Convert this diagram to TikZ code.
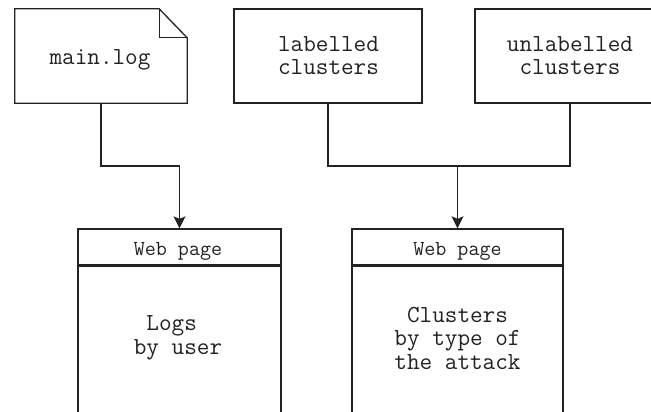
\documentclass[tikz,border=0pt]{standalone}
\usepackage{fontspec}
\usetikzlibrary{arrows.meta,calc}
\definecolor{ink}{HTML}{222222}

\tikzset{
  wire/.style={draw=ink, line width=1.3pt},
  wirearrow/.style={wire, -{Stealth[length=12pt,width=12pt,inset=2.5pt]}},
  boxshape/.style={draw=ink, line width=1.3pt, rectangle, inner sep=0pt, fill=white},
  bigtext/.style={font=\ttfamily\fontsize{24.5}{23.5}\selectfont, text=ink, inner sep=0pt, align=center, anchor=base},
  hdrtext/.style={font=\ttfamily\fontsize{21.4}{22}\selectfont, text=ink, inner sep=0pt, anchor=base},
}

\begin{document}
\begin{tikzpicture}[x=1pt, y=1pt]
  \useasboundingbox (0,0) rectangle (651,-412);
  \fill[white] (0,0) rectangle (651,-412);

  % source file with a folded corner
  \node[inner sep=0pt, minimum width=172pt, minimum height=94pt] (log) at (101,-56) {};
  \draw[wire, line join=miter]
    (log.north west) -- ([xshift=-28pt]log.north east)
    -- ([yshift=-29pt]log.north east) -- (log.south east)
    -- (log.south west) -- cycle;
  \draw[wire]
    ([xshift=-28pt]log.north east) -- ([xshift=-28pt,yshift=-29pt]log.north east)
    -- ([yshift=-29pt]log.north east);
  \node[bigtext] (logtxt) at (100,-65) {main.log};

  % cluster sources (multi-line texts sit on the baseline of their last line)
  \node[boxshape, minimum width=188pt, minimum height=94pt] (lab) at (328,-56) {};
  \node[bigtext] (labtxt) at (328.5,-75) {labelled\\clusters};
  \node[boxshape, minimum width=190pt, minimum height=94pt] (unl) at (570,-56) {};
  \node[bigtext] (unltxt) at (570,-75) {unlabelled\\clusters};

  % web pages: header strip and body
  \node[boxshape, minimum width=203pt, minimum height=36pt] (webA) at (179.5,-247) {};
  \node[boxshape, minimum width=203pt, minimum height=180pt, anchor=north] (bodyA) at (webA.south) {};
  \node[hdrtext] (hdrA) at (178,-255) {Web page};
  \node[bigtext] (txtA) at (178,-354) {Logs\phantom{x}\\by user};

  \node[boxshape, minimum width=211pt, minimum height=36pt] (webB) at (457.5,-247) {};
  \node[boxshape, minimum width=211pt, minimum height=180pt, anchor=north] (bodyB) at (webB.south) {};
  \node[hdrtext] (hdrB) at (457.5,-255) {Web page};
  \node[bigtext] (txtB) at (457.5,-369) {Clusters\\by type of\\the attack};

  % connectors
  \coordinate (bus) at (0,-166);
  \draw[wirearrow] (log.south) |- (webA.north |- bus) -- (webA.north);
  \draw[wire] (lab.south) |- (unl.south |- bus) -- (unl.south);
  \draw[wirearrow] (webB.north |- bus) -- (webB.north);
\end{tikzpicture}
\end{document}
